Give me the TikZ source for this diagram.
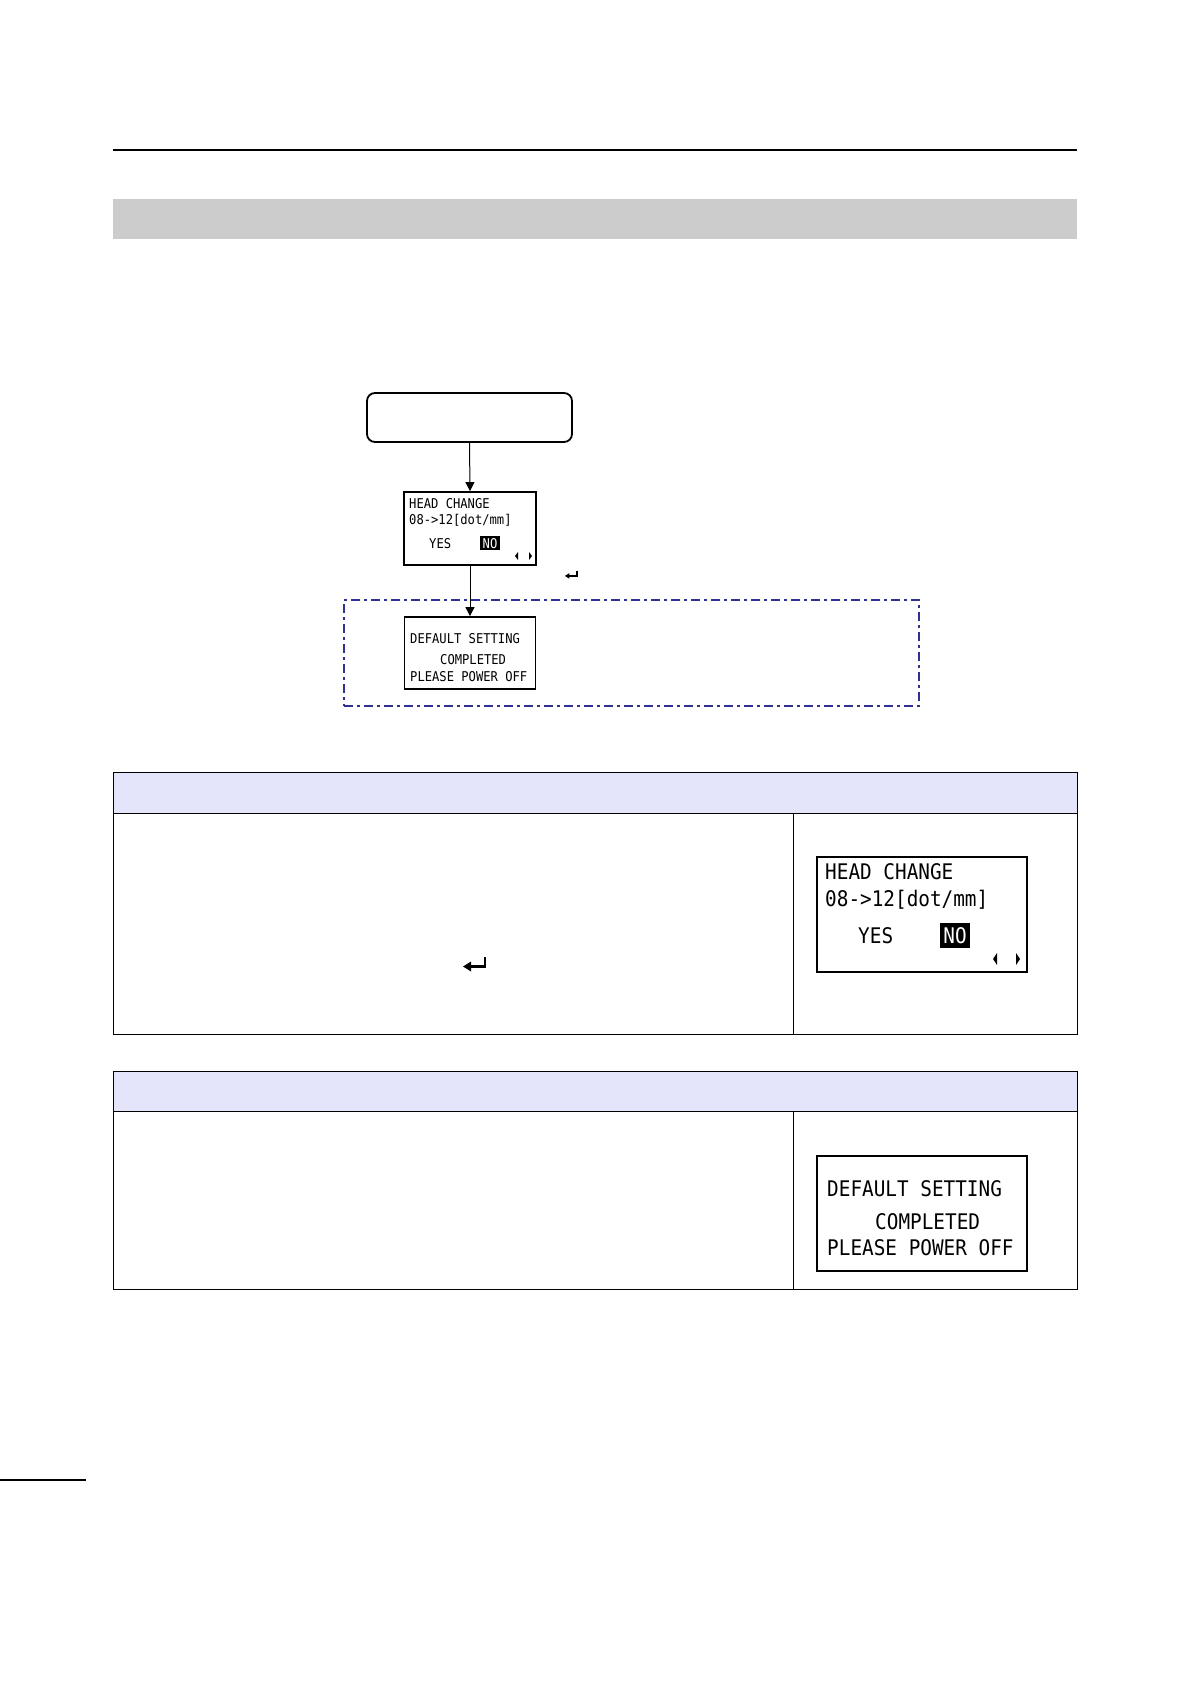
\documentclass[tikz,border=0pt]{standalone}
\usepackage{fontspec}
\newfontfamily\lcdfont[FakeStretch=0.9]{DejaVu Sans Mono}
\definecolor{bargray}{RGB}{204, 204, 204}
\definecolor{tablehead}{RGB}{228, 228, 250}
\definecolor{frameblue}{RGB}{46, 49, 146}
\usepackage{tikz}
\usetikzlibrary{arrows.meta, positioning, calc}
\tikzset{
    startbox/.style={rectangle, rounded corners=8pt, draw=black, line width=1.8pt, minimum width=205pt, minimum height=49pt},
    lcd/.style={rectangle, draw=black, line width=1.8pt, inner sep=0pt},
    lcdsmall/.style={font=\lcdfont\fontsize{13.5}{14}\selectfont, inner sep=0pt, anchor=base west},
    lcdbig/.style={font=\lcdfont\fontsize{21.5}{22}\selectfont, inner sep=0pt, anchor=base west},
    lcdsel/.style={fill=black, text=white, anchor=base},
    arrow/.style={line width=1pt, -{Triangle[length=9pt, width=9pt]}},
    resetframe/.style={rectangle, draw=frameblue, line width=2pt, dash pattern=on 9pt off 4pt on 3pt off 4pt},
    tablerule/.style={draw=black, line width=1pt},
    enterkey/.pic={
        \draw[line width=2.4pt] (10,-6) -- (10,3.5) -- (-4,3.5);
        \fill (-12,3.5) -- (-4,-1.5) -- (-4,8.5) -- cycle;
    }
}

\begin{document}
\begin{tikzpicture}[x=1pt, y=-1pt]
        \useasboundingbox (0,0) rectangle (1191,1685);

        % Page rule and title bar
        \draw[line width=1.5pt] (113,150) -- (1077,150);
        \fill[bargray] (113,199) rectangle (1077,239);

        % Flow
        \node[startbox] (start) at (469.5,417.5) {};

        \node[lcd, minimum width=132pt, minimum height=73pt] (headlcd) at (470,528.5) {};
        \node[lcdsmall] (headl1) at (409,508) {HEAD CHANGE};
        \node[lcdsmall] (headl2) at (409,524) {08->12[dot/mm]};
        \node[lcdsmall] (headyes) at (429,548) {YES};
        \node[lcdsmall, lcdsel, inner xsep=2.5pt, inner ysep=1.5pt] (headno) at (490,548) {NO};
        \fill (518,552) -- (515,556) -- (518,560) -- cycle;
        \fill (529,552) -- (532,556) -- (529,560) -- cycle;
        \pic[scale=0.55] (enterflow) at (571.5,574) {enterkey};

        \node[resetframe, minimum width=575pt, minimum height=106pt] (frame) at (631.5,653) {};

        \node[lcd, minimum width=131pt, minimum height=72pt] (donelcd) at (470,653) {};
        \node[lcdsmall] (donel1) at (410,643) {DEFAULT SETTING};
        \node[lcdsmall] (donel2) at (440,664) {COMPLETED};
        \node[lcdsmall] (donel3) at (410,681) {PLEASE POWER OFF};

        \draw[arrow] (start.south) -- (headlcd.north);
        \draw[arrow] (headlcd.south) -- (donelcd.north);

        % Table 1
        \fill[tablehead] (113,772) rectangle (1077,813);
        \draw[tablerule] (113,772) rectangle (1077,1034);
        \draw[tablerule] (113,813) -- (1077,813);
        \draw[tablerule] (793,813) -- (793,1034);
        \pic (entertable) at (475,963) {enterkey};

        \node[lcd, minimum width=210pt, minimum height=115pt] (headbig) at (922,914.5) {};
        \node[lcdbig] (bigl1) at (825,879) {HEAD CHANGE};
        \node[lcdbig] (bigl2) at (825,906) {08->12[dot/mm]};
        \node[lcdbig] (bigyes) at (858,943) {YES};
        \node[lcdbig, lcdsel, inner xsep=3.5pt, inner ysep=4.5pt] (bigno) at (955,943) {NO};
        \fill (997,953) -- (993,959) -- (997,965) -- cycle;
        \fill (1016,953) -- (1020,959) -- (1016,965) -- cycle;

        % Table 2
        \fill[tablehead] (113,1071) rectangle (1077,1111);
        \draw[tablerule] (113,1071) rectangle (1077,1289);
        \draw[tablerule] (113,1111) -- (1077,1111);
        \draw[tablerule] (793,1111) -- (793,1289);

        \node[lcd, minimum width=210pt, minimum height=115pt] (donebig) at (922,1213.5) {};
        \node[lcdbig] (bigd1) at (827,1196) {DEFAULT SETTING};
        \node[lcdbig] (bigd2) at (875,1229) {COMPLETED};
        \node[lcdbig] (bigd3) at (827,1255) {PLEASE POWER OFF};

        % Footer rule
        \draw[line width=1.3pt] (0,1480) -- (86,1480);
    \end{tikzpicture}
\end{document}
